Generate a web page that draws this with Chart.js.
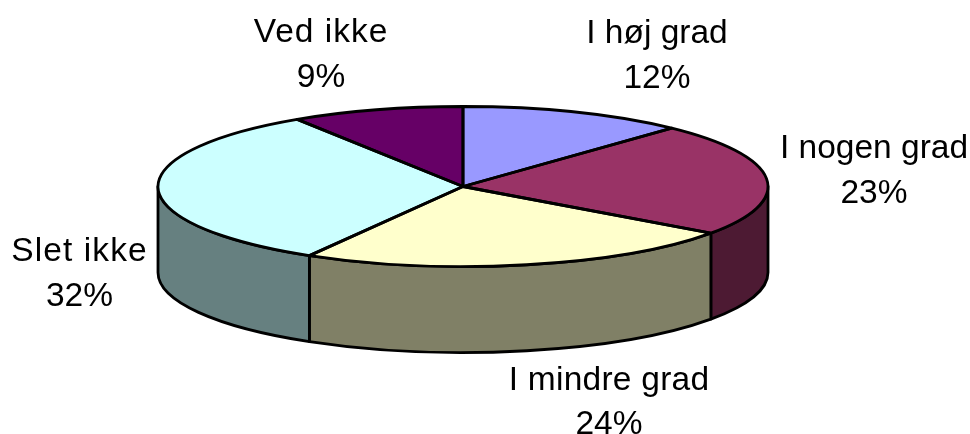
<!DOCTYPE html>
<html><head><meta charset="utf-8">
<style>html,body{margin:0;padding:0;background:#fff;overflow:hidden}canvas{display:block}</style>
<script src="https://cdn.jsdelivr.net/npm/chart.js@4"></script>
</head><body><canvas id="c" width="970" height="434"></canvas>
<script>
const categories = ['I høj grad','I nogen grad','I mindre grad','Slet ikke','Ved ikke'];
const values = [12,22.9,23.5,32.45,9.15];
const topColors = ['#9999FF','#993366','#FFFFCC','#CCFFFF','#660066'];
const sideColors = ['#4D4D80','#4D1A33','#808066','#668080','#330033'];
const labelCentersX = [657,874,609,79.5,321];
const labelBaselinesY = [43,158,389.5,261,42];
const labelSpacing = [0,0,0.25,1.1,1];

const CX=463, CY=186.5, RX=305, RY=80, DEPTH=86, LINE=2.8;
const TWO=Math.PI*2;

function sidePath(ctx,a,b){
  ctx.beginPath();
  ctx.ellipse(CX,CY,RX,RY,0,a,b);
  ctx.lineTo(CX+RX*Math.cos(b),CY+RY*Math.sin(b)+DEPTH);
  ctx.ellipse(CX,CY+DEPTH,RX,RY,0,b,a,true);
  ctx.closePath();
}
const pie3d={
  id:'pie3d',
  beforeDatasetsDraw(chart){
    const ctx=chart.ctx, arcs=chart.getDatasetMeta(0).data;
    ctx.save();
    ctx.lineWidth=LINE; ctx.strokeStyle='#000'; ctx.lineJoin='round';
    arcs.forEach((arc,i)=>{
      for(const k of [-1,0,1]){
        const a=Math.max(arc.startAngle,k*TWO), b=Math.min(arc.endAngle,k*TWO+Math.PI);
        if(b>a){ sidePath(ctx,a,b); ctx.fillStyle=sideColors[i]; ctx.fill(); ctx.stroke(); }
      }
    });
    ctx.restore();
    const a0=arcs[0];
    ctx.save();
    ctx.translate(CX,CY);
    ctx.scale(RX/a0.outerRadius,RY/a0.outerRadius);
    ctx.translate(-a0.x,-a0.y);
  },
  afterDatasetsDraw(chart){
    const ctx=chart.ctx, arcs=chart.getDatasetMeta(0).data;
    ctx.restore();
    ctx.save();
    ctx.lineWidth=LINE; ctx.strokeStyle='#000'; ctx.lineJoin='round';
    arcs.forEach(arc=>{
      ctx.beginPath();
      ctx.moveTo(CX,CY);
      ctx.ellipse(CX,CY,RX,RY,0,arc.startAngle,arc.endAngle);
      ctx.closePath();
      ctx.stroke();
    });
    ctx.fillStyle='#000';
    ctx.font='33.5px "Liberation Sans", Arial, sans-serif';
    ctx.textAlign='center'; ctx.textBaseline='alphabetic';
    categories.forEach((name,i)=>{
      ctx.letterSpacing=labelSpacing[i]+'px';
      ctx.fillText(name,labelCentersX[i],labelBaselinesY[i]);
      ctx.letterSpacing='0px';
      ctx.fillText(Math.round(values[i])+'%',labelCentersX[i],labelBaselinesY[i]+44.5);
    });
    ctx.restore();
  }
};
new Chart(document.getElementById('c'),{
  type:'pie',
  data:{labels:categories,datasets:[{data:values,backgroundColor:topColors,borderWidth:0,hoverOffset:0}]},
  options:{
    responsive:false,animation:false,
    layout:{padding:0},
    plugins:{legend:{display:false},tooltip:{enabled:false},title:{display:false}}
  },
  plugins:[pie3d]
});
</script></body></html>
